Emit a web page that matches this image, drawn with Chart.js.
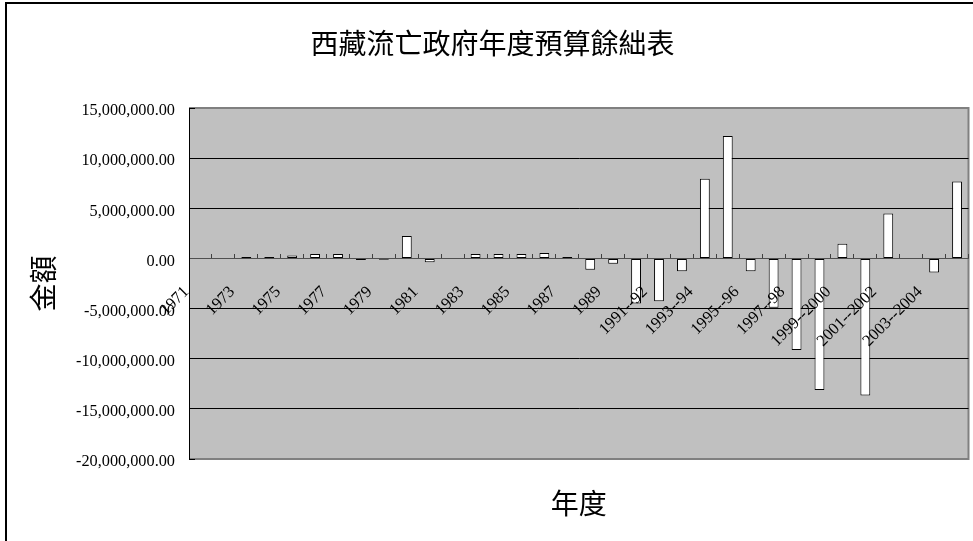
<!DOCTYPE html>
<html>
<head>
<meta charset="utf-8">
<script src="https://cdn.jsdelivr.net/npm/chart.js@4"></script>
<style>
  html, body { margin: 0; padding: 0; background: #fff; }
  #c { display: block; }
</style>
</head>
<body>
<canvas id="c" width="973" height="541"></canvas>
<script>
const chartTitle = '西藏流亡政府年度預算餘絀表';
const xTitle = '年度';
const yTitle = '金額';

const categories = [
  '1971','1972','1973','1974','1975','1976','1977','1978','1979','1980',
  '1981','1982','1983','1984','1985','1986','1987','1988','1989','1990',
  '1991--92','1992--93','1993--94','1994--95','1995--96','1996--97','1997--98','1998--99',
  '1999--2000','2000--2001','2001--2002','2002--2003','2003--2004','2004--2005'
];

const balances = [
  0, 0, 150000, 150000, 300000, 450000, 450000, -150000, -130000, 2230000,
  -370000, 0, 450000, 450000, 450000, 550000, 150000, -1130000, -530000, -4500000,
  -4270000, -1270000, 7940000, 12200000, -1270000, -4930000, -9130000, -13130000,
  1470000, -13670000, 4470000, 0, -1400000, 7670000
];

const yTicks = [15000000, 10000000, 5000000, 0, -5000000, -10000000, -15000000, -20000000];

const fmt = v => Number(v).toLocaleString('en-US', {minimumFractionDigits: 2, maximumFractionDigits: 2});

const backdrop = {
  id: 'backdrop',
  beforeDraw(chart) {
    const {ctx, chartArea: a, width, height} = chart;
    ctx.save();
    ctx.fillStyle = '#ffffff';
    ctx.fillRect(0, 0, width, height);
    ctx.fillStyle = '#000000';
    ctx.fillRect(5, 2, 2, height - 2);
    ctx.fillRect(5, 2, width - 5, 2);
    ctx.fillStyle = '#c0c0c0';
    ctx.fillRect(a.left, a.top, a.right - a.left, a.bottom - a.top);
    ctx.strokeStyle = '#808080';
    ctx.lineWidth = 2;
    ctx.beginPath();
    ctx.moveTo(a.left, a.top);
    ctx.lineTo(a.right, a.top);
    ctx.lineTo(a.right, a.bottom);
    ctx.lineTo(a.left, a.bottom);
    ctx.stroke();
    ctx.restore();
  }
};

new Chart(document.getElementById('c'), {
  type: 'bar',
  data: {
    labels: categories,
    datasets: [{
      data: balances,
      backgroundColor: '#ffffff',
      borderColor: '#000000',
      borderWidth: 1,
      borderSkipped: false,
      barPercentage: 0.43,
      categoryPercentage: 1
    }]
  },
  options: {
    responsive: false,
    animation: false,
    devicePixelRatio: 1,
    layout: { padding: { left: 16.5, right: 4.5, top: 0, bottom: 0 } },
    plugins: {
      legend: { display: false },
      tooltip: { enabled: false },
      title: {
        display: true,
        text: chartTitle,
        color: '#000',
        font: { family: '"Noto Sans CJK TC"', size: 28, weight: 'normal' },
        padding: { top: 26.2, bottom: 48.2 }
      },
      subtitle: {
        display: true,
        text: xTitle,
        position: 'bottom',
        fullSize: false,
        color: '#000',
        font: { family: '"Noto Sans CJK TC"', size: 28, weight: 'normal' },
        padding: { top: 27.2, bottom: 21.2 }
      }
    },
    scales: {
      x: {
        position: { y: 0 },
        offset: true,
        grid: {
          offset: true,
          drawOnChartArea: false,
          drawTicks: true,
          tickLength: -5,
          color: '#404040',
          tickColor: '#404040'
        },
        border: { display: true, color: '#505050', width: 1 },
        ticks: {
          autoSkip: false,
          maxRotation: 45,
          minRotation: 45,
          padding: 29,
          labelOffset: -14,
          color: '#000',
          z: 1,
          font: { family: '"Liberation Serif"', size: 16.5 },
          callback: function(value, index) { return index % 2 === 0 ? this.getLabelForValue(value) : ''; }
        },
        afterFit: s => { s.height = 0; s.paddingLeft = 0; s.paddingRight = 0; }
      },
      y: {
        min: -20000000,
        max: 15000000,
        afterBuildTicks: s => { s.ticks = yTicks.map(v => ({ value: v })); },
        grid: {
          drawTicks: true,
          tickLength: -6,
          color: ctx => (ctx.tick && (ctx.tick.value === 15000000 || ctx.tick.value === -20000000)) ? '#808080' : '#000000',
          tickColor: '#000000',
          lineWidth: 1
        },
        border: { display: true, color: '#000000', width: 1 },
        ticks: {
          padding: 20,
          labelOffset: 3,
          color: '#000',
          font: { family: '"Liberation Serif"', size: 16.3 },
          callback: v => fmt(v)
        },
        title: {
          display: true,
          text: yTitle,
          color: '#000',
          font: { family: '"Noto Sans CJK TC"', size: 28, weight: 'normal' },
          padding: { top: 9.7, bottom: 0 }
        },
        afterFit: s => { s.width = 172.5; }
      }
    }
  },
  plugins: [backdrop]
});
</script>
</body>
</html>
